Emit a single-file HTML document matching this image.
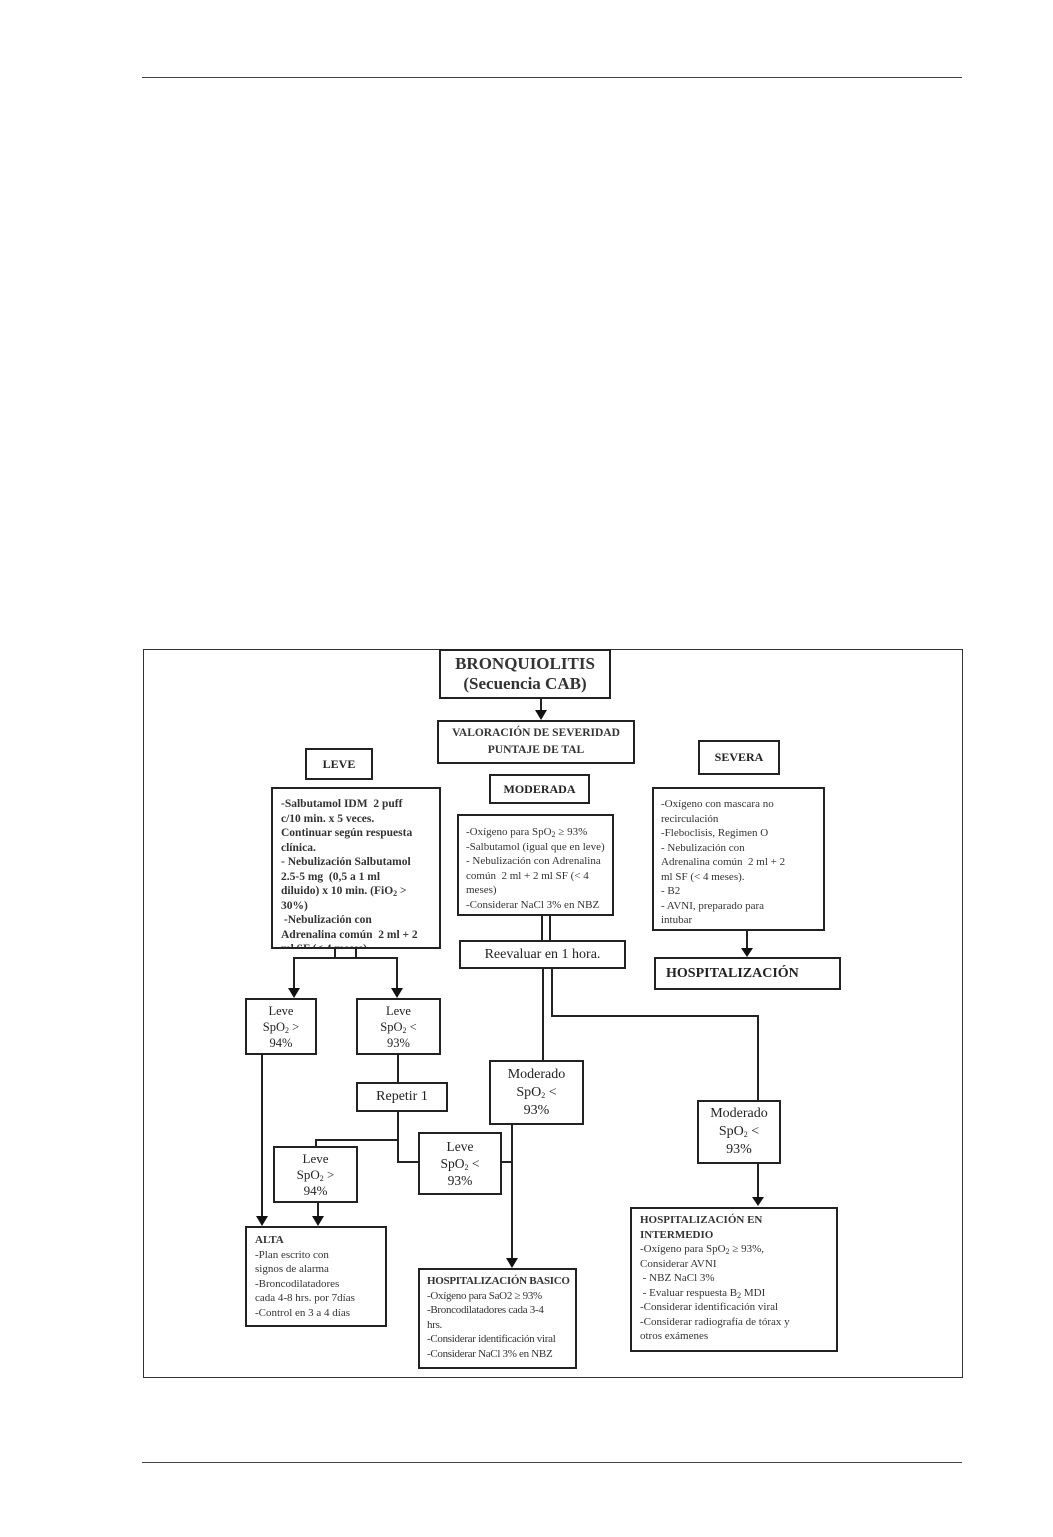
<!DOCTYPE html>
<html><head><meta charset="utf-8"><style>
body{margin:0;background:#fff;}
#p{position:relative;width:1053px;height:1537px;overflow:hidden;background:#fff;font-family:"Liberation Serif","DejaVu Serif",serif;color:#222;}
.b{position:absolute;border:2px solid #222;box-sizing:border-box;background:#fff;}
.c{display:flex;align-items:center;justify-content:center;text-align:center;}
.t{font-size:11px;line-height:14.5px;padding:4px 6px;white-space:nowrap;color:#333;overflow:hidden;}
.bd{font-weight:bold;}
sub{font-size:8px;line-height:0;vertical-align:-2px;}
</style></head><body><div id="p">
<div style="position:absolute;left:142px;top:77px;width:820px;height:1px;background:#444"></div>
<div style="position:absolute;left:142px;top:1462px;width:820px;height:1px;background:#444"></div>
<div style="position:absolute;left:143px;top:649px;width:820px;height:729px;border:1px solid #333;box-sizing:border-box"></div>

<svg style="position:absolute;left:0;top:0" width="1053" height="1537">
<g stroke="#222" stroke-width="2" fill="none">
<line x1="541" y1="698" x2="541" y2="712"/>
<line x1="542" y1="915" x2="542" y2="940"/><line x1="550" y1="915" x2="550" y2="940"/>
<line x1="747" y1="930" x2="747" y2="950"/>
<line x1="335" y1="948" x2="335" y2="958"/><line x1="356" y1="948" x2="356" y2="958"/>
<polyline points="294,990 294,958 397,958 397,990"/>
<line x1="262" y1="1054" x2="262" y2="1218"/>
<line x1="398" y1="1054" x2="398" y2="1082"/>
<polyline points="316,1146 316,1140 398,1140"/>
<polyline points="398,1111 398,1162 418,1162"/>
<line x1="501" y1="1162" x2="512" y2="1162"/>
<line x1="512" y1="1124" x2="512" y2="1260"/>
<line x1="318" y1="1202" x2="318" y2="1218"/>
<line x1="543" y1="968" x2="543" y2="1060"/>
<polyline points="552,968 552,1016 758,1016 758,1102"/>
<line x1="758" y1="1163" x2="758" y2="1199"/>
</g>
<g fill="#111">
<polygon points="535,710 547,710 541,720"/>
<polygon points="741,948 753,948 747,957"/>
<polygon points="288,988 300,988 294,998"/>
<polygon points="391,988 403,988 397,998"/>
<polygon points="256,1216 268,1216 262,1226"/>
<polygon points="312,1216 324,1216 318,1226"/>
<polygon points="506,1258 518,1258 512,1268"/>
<polygon points="752,1197 764,1197 758,1206"/>
</g>
</svg>

<div class="b c" style="left:439px;top:649px;width:172px;height:50px;font-size:17px;line-height:20px;font-weight:bold;color:#333"><span>BRONQUIOLITIS<br>(Secuencia CAB)</span></div>
<div class="b c" style="left:437px;top:720px;width:198px;height:44px;font-size:11.5px;line-height:17px;font-weight:bold;color:#333"><span>VALORACIÓN DE SEVERIDAD<br>PUNTAJE DE TAL</span></div>
<div class="b c" style="left:305px;top:748px;width:68px;height:32px;font-size:12px;font-weight:bold"><span>LEVE</span></div>
<div class="b c" style="left:489px;top:774px;width:101px;height:30px;font-size:12px;font-weight:bold"><span>MODERADA</span></div>
<div class="b c" style="left:698px;top:740px;width:82px;height:35px;font-size:12px;font-weight:bold"><span>SEVERA</span></div>

<div class="b t bd" style="left:271px;top:787px;width:170px;height:162px;padding:8px 8px;font-size:11.5px;line-height:14.5px">-Salbutamol IDM&nbsp; 2 puff<br>c/10 min. x 5 veces.<br>Continuar según respuesta<br>clínica.<br>- Nebulización Salbutamol<br>2.5-5 mg&nbsp; (0,5 a 1 ml<br>diluido) x 10 min. (FiO<sub>2</sub> &gt;<br>30%)<br>&nbsp;-Nebulización con<br>Adrenalina común&nbsp; 2 ml + 2<br>ml SF (&lt; 4 meses)</div>
<div class="b t" style="left:457px;top:814px;width:157px;height:102px;padding:9px 7px">-Oxígeno para SpO<sub>2</sub> ≥ 93%<br>-Salbutamol (igual que en leve)<br>- Nebulización con Adrenalina<br>común&nbsp; 2 ml + 2 ml SF (&lt; 4<br>meses)<br>-Considerar NaCl 3% en NBZ</div>
<div class="b c" style="left:459px;top:940px;width:167px;height:29px;font-size:14px"><span>Reevaluar en 1 hora.</span></div>
<div class="b t" style="left:652px;top:787px;width:173px;height:144px;padding:8px 7px">-Oxígeno con mascara no<br>recirculación<br>-Fleboclisis, Regimen O<br>- Nebulización con<br>Adrenalina común&nbsp; 2 ml + 2<br>ml SF (&lt; 4 meses).<br>- B2<br>- AVNI, preparado para<br>intubar</div>
<div class="b c" style="left:654px;top:957px;width:187px;height:33px;font-size:14px;font-weight:bold;justify-content:flex-start;padding-left:10px"><span>HOSPITALIZACIÓN</span></div>

<div class="b c" style="left:245px;top:998px;width:72px;height:57px;font-size:12.5px;line-height:16px"><span>Leve<br>SpO<sub>2</sub> &gt;<br>94%</span></div>
<div class="b c" style="left:356px;top:998px;width:85px;height:57px;font-size:12.5px;line-height:16px"><span>Leve<br>SpO<sub>2</sub> &lt;<br>93%</span></div>
<div class="b c" style="left:356px;top:1082px;width:92px;height:30px;font-size:14px"><span>Repetir 1</span></div>
<div class="b c" style="left:489px;top:1060px;width:95px;height:65px;font-size:14px;line-height:18px"><span>Moderado<br>SpO<sub>2</sub> &lt;<br>93%</span></div>
<div class="b c" style="left:418px;top:1132px;width:84px;height:63px;font-size:13.5px;line-height:17px"><span>Leve<br>SpO<sub>2</sub> &lt;<br>93%</span></div>
<div class="b c" style="left:273px;top:1146px;width:85px;height:57px;font-size:13px;line-height:16px;overflow:hidden"><span>Leve<br>SpO<sub>2</sub> &gt;<br>94%</span></div>
<div class="b c" style="left:697px;top:1100px;width:84px;height:64px;font-size:14px;line-height:18px"><span>Moderado<br>SpO<sub>2</sub> &lt;<br>93%</span></div>

<div class="b t" style="left:245px;top:1226px;width:142px;height:101px;padding:5px 8px"><b>ALTA</b><br>-Plan escrito con<br>signos de alarma<br>-Broncodilatadores<br>cada 4-8 hrs. por 7días<br>-Control en 3 a 4 días</div>
<div class="b t" style="left:418px;top:1268px;width:159px;height:101px;padding:4px 7px;letter-spacing:-0.3px"><b>HOSPITALIZACIÓN BASICO</b><br>-Oxígeno para SaO2 ≥ 93%<br>-Broncodilatadores cada 3-4<br>hrs.<br>-Considerar identificación viral<br>-Considerar NaCl 3% en NBZ</div>
<div class="b t" style="left:630px;top:1207px;width:208px;height:145px;padding:4px 8px"><b>HOSPITALIZACIÓN EN<br>INTERMEDIO</b><br>-Oxígeno para SpO<sub>2</sub> ≥ 93%,<br>Considerar AVNI<br>&nbsp;- NBZ NaCl 3%<br>&nbsp;- Evaluar respuesta B<sub>2</sub> MDI<br>-Considerar identificación viral<br>-Considerar radiografía de tórax y<br>otros exámenes</div>
</div></body></html>
